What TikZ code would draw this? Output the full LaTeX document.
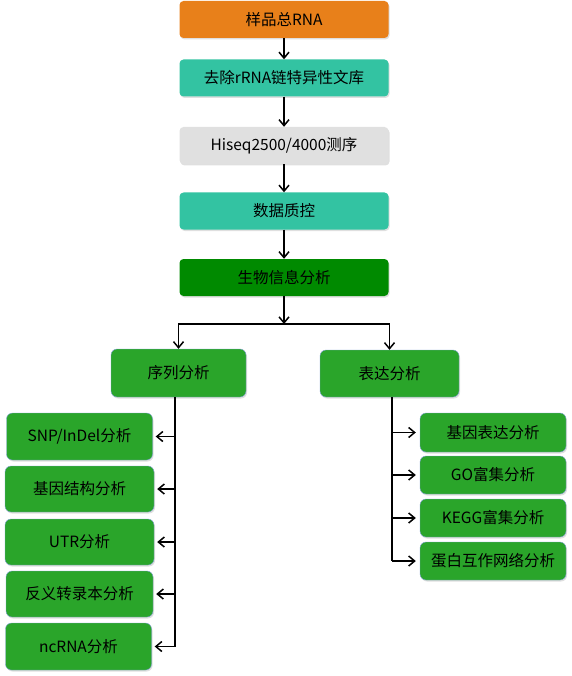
\documentclass[tikz,border=0pt]{standalone}
\usepackage{fontspec}
\setmainfont{Noto Sans CJK SC}
\usepackage{xcolor}
\usepackage{tikz}
\usetikzlibrary{arrows.meta, positioning, shadows}

\definecolor{rnaorange}{HTML}{E8801A}
\definecolor{libteal}{HTML}{33C3A2}
\definecolor{seqgray}{HTML}{E0E0E0}
\definecolor{biogreen}{HTML}{008A00}
\definecolor{subgreen}{HTML}{2AA52A}
\definecolor{subedge}{HTML}{7F9FD6}

\begin{document}
\begin{tikzpicture}[
    x=1pt, y=-1pt,
    every node/.style={font=\fontsize{15.5}{18}\selectfont},
    flowbox/.style={fill=#1, rounded corners=4pt, minimum width=209pt, minimum height=37pt, text centered, drop shadow={shadow xshift=1pt, shadow yshift=-1.5pt, opacity=0.25}},
    subbox/.style={draw=subedge, fill=subgreen, rounded corners=6pt, text centered, drop shadow={shadow xshift=1pt, shadow yshift=-1.5pt, opacity=0.25}},
    arr/.style={-{Straight Barb[length=6pt, width=10pt, line width=1.5pt]}, line width=1.5pt, black},
]
\useasboundingbox (0,0) rectangle (571,676);

% Main chain
\node[flowbox=rnaorange] (rna) at (284,19.5) {样品总RNA};
\node[flowbox=libteal] (lib) at (284,78) {去除rRNA链特异性文库};
\node[flowbox=seqgray] (seq) at (284,145.5) {Hiseq2500/4000测序};
\node[flowbox=libteal] (qc) at (284,211) {数据质控};
\node[flowbox=biogreen] (bio) at (284,277.5) {生物信息分析};

\draw[arr] (rna) -- (lib);
\draw[arr] (lib) -- (seq);
\draw[arr] (seq) -- (qc);
\draw[arr] (qc) -- (bio);

% Two branches
\node[subbox, minimum width=135pt, minimum height=48pt] (seqana) at (178.5,373) {序列分析};
\node[subbox, minimum width=139pt, minimum height=47pt] (expana) at (389.5,373.5) {表达分析};

\coordinate (split) at (284,324);
\draw[arr] (bio) -- (split);
\draw[arr] (split) -| (seqana.north);
\draw[arr] (split) -| (expana.north);

% Sequence analysis
\node[subbox, minimum width=146pt, minimum height=47pt] (snp) at (79.5,436.5) {SNP/InDel分析};
\node[subbox, minimum width=149pt, minimum height=46pt] (gene) at (79.5,489) {基因结构分析};
\node[subbox, minimum width=149pt, minimum height=46pt] (utr) at (79.5,542) {UTR分析};
\node[subbox, minimum width=147pt, minimum height=46pt] (anti) at (79.5,594) {反义转录本分析};
\node[subbox, minimum width=146pt, minimum height=47pt] (ncrna) at (78.5,646.5) {ncRNA分析};

\coordinate (seqtrunk) at (175,397);
\draw[line width=1.5pt] (seqtrunk) -- (seqtrunk |- ncrna);
\foreach \n in {snp, gene, utr, anti, ncrna} {
    \draw[arr] (seqtrunk |- \n) -- ([xshift=3pt]\n.east);
}

% Expression analysis
\node[subbox, minimum width=146pt, minimum height=39pt] (expr) at (493,432.5) {基因表达分析};
\node[subbox, minimum width=146pt, minimum height=38pt] (go) at (493,475) {GO富集分析};
\node[subbox, minimum width=146pt, minimum height=38pt] (kegg) at (493,518) {KEGG富集分析};
\node[subbox, minimum width=146pt, minimum height=38pt] (ppi) at (493,561) {蛋白互作网络分析};

\coordinate (exptrunk) at (392,397);
\draw[line width=1.5pt] (exptrunk) -- (exptrunk |- ppi);
\foreach \n in {expr, go, kegg, ppi} {
    \draw[arr] (exptrunk |- \n) -- ([xshift=-4pt]\n.west);
}

\end{tikzpicture}
\end{document}
